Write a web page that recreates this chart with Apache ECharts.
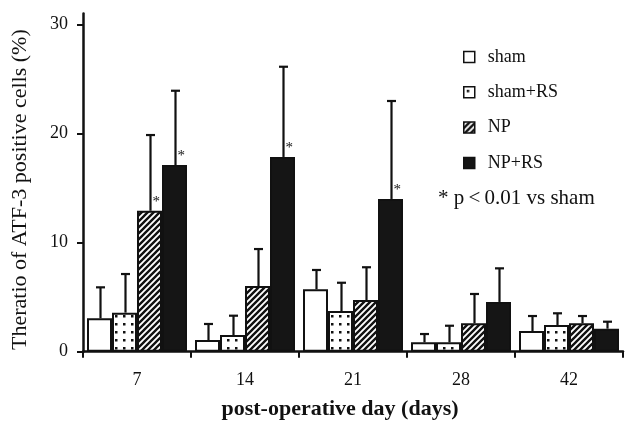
<!DOCTYPE html>
<html><head><meta charset="utf-8">
<script src="https://cdn.jsdelivr.net/npm/echarts@6/dist/echarts.min.js"></script>
<style>html,body{margin:0;padding:0;background:#fff}#c{width:627px;height:423px}</style>
</head><body><div id="c"></div>
<script>
const categories = ['7', '14', '21', '28', '42'];
const seriesNames = ['sham', 'sham+RS', 'NP', 'NP+RS'];
const sham      = [3.06, 1.07, 5.72, 0.86, 1.90];
const shamSD    = [2.84, 1.47, 1.77, 0.76, 1.37];
const shamRS    = [3.58, 1.53, 3.73, 0.86, 2.45];
const shamRSSD  = [3.54, 1.77, 2.59, 1.52, 1.07];
const np        = [12.92, 6.02, 4.74, 2.60, 2.60];
const npSD      = [6.94, 3.39, 3.00, 2.69, 0.67];
const npRS      = [17.11, 17.85, 14.00, 4.56, 2.11];
const npRSSD    = [6.81, 8.27, 8.98, 3.08, 0.64];
const shamSig   = [0, 0, 0, 0, 0];
const shamRSSig = [0, 0, 0, 0, 0];
const npSig     = [1, 0, 0, 0, 0];
const npRSSig   = [1, 1, 1, 0, 0];
const yTicks = [0, 10, 20, 30];

const FONT = 'Liberation Serif';
const BAR_W = 25;

function dotPattern() {
  const c = document.createElement('canvas'); c.width = 8; c.height = 8;
  const g = c.getContext('2d');
  g.fillStyle = '#fff'; g.fillRect(0, 0, 8, 8);
  g.fillStyle = '#111'; g.fillRect(3, 3, 2.5, 2.5);
  return c;
}
function stripePattern() {
  const s = 6;
  const c = document.createElement('canvas'); c.width = s; c.height = s;
  const g = c.getContext('2d');
  g.fillStyle = '#fff'; g.fillRect(0, 0, s, s);
  g.strokeStyle = '#111'; g.lineWidth = 2.4;
  g.beginPath();
  g.moveTo(-1, s + 1); g.lineTo(s + 1, -1);
  g.moveTo(-s / 2 - 1, s / 2 + 1); g.lineTo(s / 2 + 1, -s / 2 - 1);
  g.moveTo(s / 2 - 1, s * 1.5 + 1); g.lineTo(s * 1.5 + 1, s / 2 - 1);
  g.stroke();
  return c;
}

const fills = [
  '#ffffff',
  { image: dotPattern(), repeat: 'repeat' },
  { image: stripePattern(), repeat: 'repeat' },
  '#151515'
];
const means = [sham, shamRS, np, npRS];
const sds = [shamSD, shamRSSD, npSD, npRSSD];
const sigs = [shamSig, shamRSSig, npSig, npRSSig];

const barSeries = seriesNames.map((name, i) => ({
  name: name,
  type: 'bar',
  data: means[i],
  barWidth: BAR_W,
  barGap: '0%',
  itemStyle: { color: fills[i], borderColor: '#111', borderWidth: 2 },
  emphasis: { disabled: true },
  z: 2
}));

const errData = [];
for (let s = 0; s < 4; s++) {
  for (let k = 0; k < categories.length; k++) {
    errData.push([k, s, means[s][k], sds[s][k], sigs[s][k]]);
  }
}

const errSeries = {
  type: 'custom',
  data: errData,
  z: 5,
  silent: true,
  encode: { x: 0, y: 2 },
  renderItem: function (params, api) {
    const cat = api.value(0), s = api.value(1), m = api.value(2), sd = api.value(3), sig = api.value(4);
    const base = api.coord([cat, m]);
    const top = api.coord([cat, m + sd]);
    const x = base[0] + (s - 1.5) * BAR_W + 1;
    const style = { stroke: '#111', lineWidth: 2.2 };
    const children = [
      { type: 'line', shape: { x1: x, y1: base[1], x2: x, y2: top[1] }, style: style },
      { type: 'line', shape: { x1: x - 4.5, y1: top[1], x2: x + 4.5, y2: top[1] }, style: style }
    ];
    if (sig) {
      children.push({ type: 'text', style: { text: '*', x: x + 2, y: base[1] - 16, fill: '#111', font: '15px "' + FONT + '"' } });
    }
    return { type: 'group', children: children };
  }
};

const chart = echarts.init(document.getElementById('c'), null, { renderer: 'canvas' });
chart.setOption({
  animation: false,
  backgroundColor: '#fff',
  textStyle: { fontFamily: FONT, color: '#111' },
  grid: { left: 83, right: 4, top: 13.5, bottom: 71.3, containLabel: false, outerBoundsMode: 'none' },
  legend: {
    orient: 'vertical',
    left: 458,
    top: 43,
    icon: 'rect',
    itemWidth: 11,
    itemHeight: 11,
    itemGap: 17.3,
    data: seriesNames,
    itemStyle: { borderColor: '#111', borderWidth: 1.5 },
    textStyle: { fontFamily: FONT, fontSize: 18, color: '#111', padding: [0, 0, 0, 8] },
    selectedMode: false
  },
  graphic: [
    { type: 'text', left: 438, top: 188, style: { text: '* p\u2009<\u20090.01 vs sham', font: '21px "' + FONT + '"', fill: '#111' } }
  ],
  xAxis: {
    type: 'category',
    data: categories,
    name: 'post-operative day (days)',
    nameLocation: 'middle',
    nameGap: 47,
    nameTextStyle: { fontFamily: FONT, fontSize: 22, fontWeight: 'bold', color: '#111', padding: [0, 26, 0, 0] },
    axisLine: { lineStyle: { color: '#111', width: 2.5 } },
    axisTick: { show: true, length: 6, lineStyle: { color: '#111', width: 2 } },
    axisLabel: { fontFamily: FONT, fontSize: 18, color: '#111', margin: 20 },
    splitLine: { show: false }
  },
  yAxis: {
    type: 'value',
    min: 0,
    max: 31,
    interval: 10,
    name: 'Theratio of ATF-3 positive cells (%)',
    nameLocation: 'middle',
    nameGap: 52,
    nameTextStyle: { fontFamily: FONT, fontSize: 22, color: '#111', padding: [0, 14, 0, 0] },
    axisLine: { show: true, lineStyle: { color: '#111', width: 2.5 } },
    axisTick: { show: true, length: 6, lineStyle: { color: '#111', width: 2 }, customValues: yTicks },
    axisLabel: { fontFamily: FONT, fontSize: 18, color: '#111', margin: 15, customValues: yTicks },
    splitLine: { show: false }
  },
  series: barSeries.concat([errSeries])
});
</script>
</body></html>
